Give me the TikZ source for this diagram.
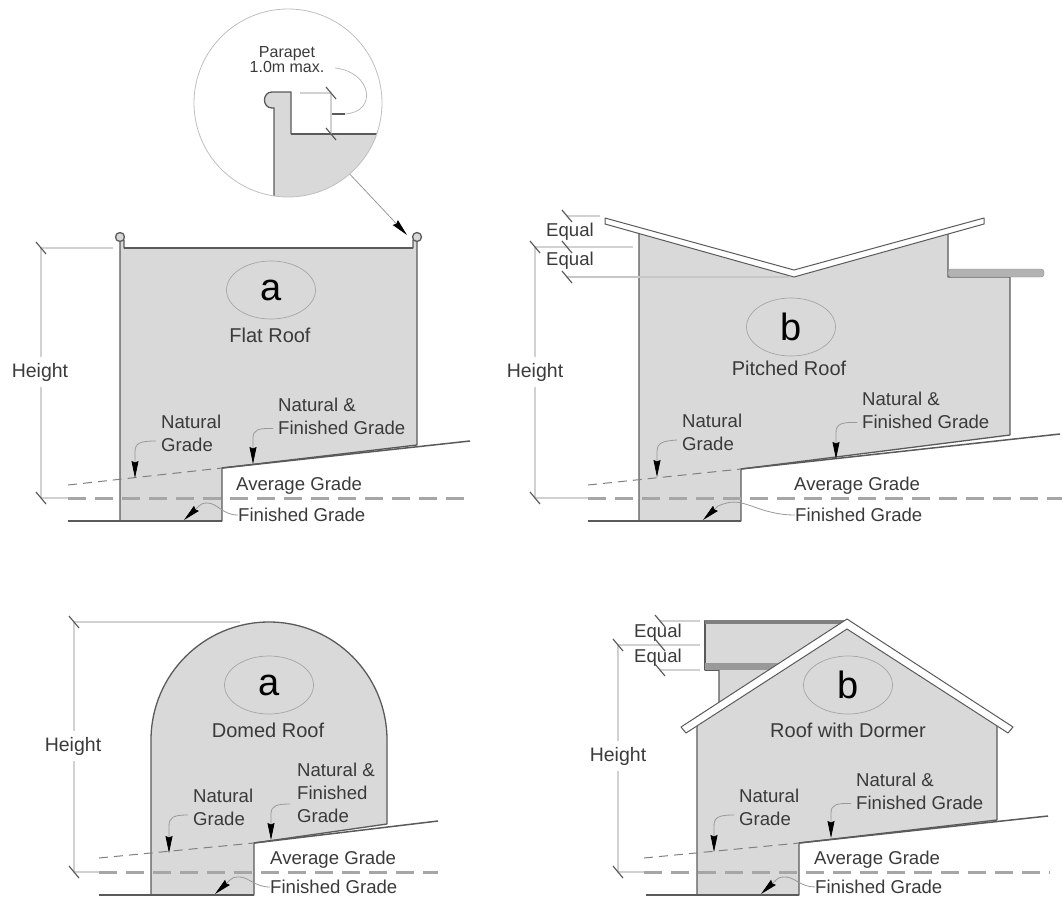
\documentclass[tikz,border=0pt]{standalone}
\usepackage{fontspec}
\setmainfont{Liberation Sans}
\usepackage{xcolor}
\usetikzlibrary{arrows.meta,calc}
\definecolor{wallgray}{HTML}{D9D9D9}
\definecolor{linegray}{HTML}{5A5A5A}
\definecolor{textgray}{HTML}{3A3A3A}
\tikzset{%
	wall/.style      = {draw=linegray, fill=wallgray, line width=1.3pt, line join=round},
	grade/.style     = {draw=linegray, line width=1.5pt},
	natgrade/.style  = {draw=gray, line width=1pt, dash pattern=on 9pt off 6pt},
	avggrade/.style  = {draw=black!35, line width=3pt, dash pattern=on 18pt off 9pt},
	dimline/.style   = {draw=black!18, line width=1.2pt},
	dimtick/.style   = {draw=linegray, line width=1.2pt},
	leader/.style    = {draw=black!40, line width=.8pt, -{Stealth[length=17pt,width=7pt,inset=1.5pt,black]}},
	roofband/.style  = {draw=linegray, fill=white, line width=1pt, line join=round},
	label/.style     = {text=textgray, font=\fontsize{18.6}{23}\selectfont, align=left, inner sep=0pt},
	roofname/.style  = {text=textgray, font=\fontsize{20}{24}\selectfont, inner sep=0pt},
	heightlabel/.style = {text=textgray, font=\fontsize{19.5}{24}\selectfont, inner sep=6pt},
	equallabel/.style = {text=textgray, font=\fontsize{18.6}{24}\selectfont, inner sep=0pt},
	tag/.style       = {draw=black!35, ellipse, minimum width=89pt, minimum height=58pt, inner sep=0pt, line width=.7pt, font=\fontsize{38}{38}\selectfont},
}
\usetikzlibrary{shapes.geometric}
\begin{document}
\begin{tikzpicture}[x=1pt,y=-1pt]
	\useasboundingbox (0,0) rectangle (1063,897);
	
	% flat roof
	\draw[wall] (120,521) -- (120,240) -- (124,240) -- (124,248) -- (413,248) -- (413,240) -- (417,240) -- (417,445) -- (222,468) -- (222,521) -- cycle;
	\draw[wall] (120,237) circle [radius=4.5];
	\draw[wall] (417,237) circle [radius=4.5];
	\draw[linegray, line width=2.4pt] (124,248) -- (413,248);
	\draw[natgrade] (68,485) -- (222,468);
	\draw[grade] (222,468) -- (470,441);
	\draw[grade] (68,521) -- (222,521);
	\draw[dimline] (41,498) -- (68,498);
	\draw[avggrade] (68,498) -- (472,498);
	\draw[dimline] (41,248) -- (113,248);
	
	\node[tag] (flattag) at (271,290) {a};
	\node[roofname] (flatname) at (270,335) {Flat Roof};
	\node[heightlabel] (flatheight) at (40,372) {Height};
	\coordinate (flattop) at (41,248);
	\coordinate (flatbase) at (41,498);
	\draw[dimline] (flattop) -- (flattop |- flatheight.north);
	\draw[dimline] (flatbase |- flatheight.south) -- (flatbase);
	\foreach \p in {flattop,flatbase}
		\draw[dimtick] ($(\p)+(-5,-6)$) -- ($(\p)+(5,6)$);
	
	\node[label,anchor=west] (flatnat) at (161,433) {Natural\\Grade};
	\node[label,anchor=west] (flatboth) at (278,416) {Natural \&\\Finished Grade};
	\node[label,anchor=west] (flatavg) at (236,486) {Average Grade};
	\node[label,anchor=west] (flatfin) at (238,515) {Finished Grade};
	\coordinate (flatnatend) at (135,478);
	\coordinate (flatbothend) at (253,464);
	\coordinate (flatfinend) at (184,520);
	\draw[leader] ([xshift=-5pt,yshift=-8pt]flatnat.west) .. controls (140,441) and (135,443) .. (135,452) -- (flatnatend);
	\draw[leader] ([xshift=-5pt,yshift=6pt]flatboth.south west) .. controls (258,428) and (253,430) .. (253,438) -- (flatbothend);
	\draw[leader] (flatfin.west) .. controls (222,515) and (218,503) .. (207,503) .. controls (203,503) and (201,504) .. (199,506) -- (flatfinend);
	
	% parapet detail
	\begin{scope}
		\clip (288,103) circle [radius=94];
		\path[fill=wallgray] (291,134) -- (400,134) -- (400,220) -- (274,220) -- (274,108) -- (272,108) .. controls (262,108) and (262,92) .. (272,92) -- (291,92) -- cycle;
		\draw[linegray, line width=1.3pt] (274,220) -- (274,108) -- (272,108) .. controls (262,108) and (262,92) .. (272,92) -- (291,92) -- (291,134);
		\draw[linegray, line width=2pt] (291,134) -- (400,134);
	\end{scope}
	\node[draw=black!25, circle, minimum size=188pt, line width=.8pt] (detail) at (288,103) {};
	\node[label, align=center, font=\fontsize{16}{15}\selectfont] (parapet) at (287,60) {Parapet\\1.0m max.};
	\coordinate (capt) at (331,93);
	\coordinate (capb) at (331,134);
	\draw[dimline] (300,93) -- (capt);
	\draw[dimline] (capt) -- (capb);
	\foreach \p in {capt,capb}
		\draw[dimtick] ($(\p)+(-5,-6)$) -- ($(\p)+(5,6)$);
	\coordinate (capend) at (332,114);
	\draw[black!30, line width=.7pt] (335,68) .. controls (372,72) and (378,112) .. (345,114);
	\draw[linegray, line width=2.2pt] (345,114) -- (capend);
	\coordinate (detailend) at (407,235);
	\draw[leader] (detail.-49) -- (detailend);
	
	% pitched roof
	\draw[wall] (639,231) -- (794,274) -- (948,233) -- (948,277) -- (1010,277) -- (1010,435) -- (741,469) -- (741,521) -- (639,521) -- cycle;
	\draw[roofband] (605,218) -- (794,270) -- (984,218) -- (984,224) -- (794,277) -- (605,224) -- cycle;
	\draw[draw=black!45, fill=black!30, rounded corners=3pt] (948,269) -- (1044,269) -- (1044,277) -- (948,277) -- cycle;
	\draw[natgrade] (588,485) -- (741,469);
	\draw[grade] (741,469) -- (1060,434);
	\draw[grade] (588,521) -- (741,521);
	\draw[dimline] (535,498) -- (588,498);
	\draw[avggrade] (588,498) -- (1062,498);
	\draw[dimline] (567,216) -- (600,216);
	\draw[dimline] (535,247) -- (633,247);
	\draw[draw=black!22, line width=1.4pt] (567,277) -- (790,277);
	
	\node[tag] (pitchtag) at (791,327) {b};
	\node[roofname] (pitchname) at (789,368) {Pitched Roof};
	\node[heightlabel] (pitchheight) at (535,372) {Height};
	\node[equallabel] (pitcheqa) at (570,232) {Equal};
	\node[equallabel] (pitcheqb) at (570,261) {Equal};
	\coordinate (pitchtop) at (535,247);
	\coordinate (pitchbase) at (535,498);
	\draw[dimline] (pitchtop) -- (pitchbase |- pitchheight.north);
	\draw[dimline] (pitchbase |- pitchheight.south) -- (pitchbase);
	\foreach \p in {pitchtop,pitchbase,{567,216},{567,247},{567,277}}
		\draw[dimtick] ($(\p)+(-5,-6)$) -- ($(\p)+(5,6)$);
	
	\node[label,anchor=west] (pitchnat) at (682,432) {Natural\\Grade};
	\node[label,anchor=west] (pitchboth) at (862,410) {Natural \&\\Finished Grade};
	\node[label,anchor=west] (pitchavg) at (794,486) {Average Grade};
	\node[label,anchor=west] (pitchfin) at (795,515) {Finished Grade};
	\coordinate (pitchnatend) at (657,477);
	\coordinate (pitchbothend) at (836,459);
	\coordinate (pitchfinend) at (703,520);
	\draw[leader] ([xshift=-5pt,yshift=-8pt]pitchnat.west) .. controls (662,441) and (657,443) .. (657,452) -- (pitchnatend);
	\draw[leader] ([xshift=-5pt,yshift=6pt]pitchboth.south west) .. controls (841,422) and (836,424) .. (836,433) -- (pitchbothend);
	\draw[leader] (pitchfin.west) .. controls (760,515) and (745,498) .. (727,503) .. controls (723,504) and (720,505) .. (718,506) -- (pitchfinend);
	
	% domed roof
	\draw[wall] (151,895) -- (151,740) arc [start angle=180, end angle=360, radius=118] -- (387,824) -- (254,843) -- (254,895) -- cycle;
	\draw[natgrade] (99,858) -- (254,843);
	\draw[grade] (254,843) -- (438,821);
	\draw[grade] (99,895) -- (254,895);
	\draw[dimline] (74,872) -- (99,872);
	\draw[avggrade] (99,872) -- (438,872);
	\draw[dimline] (74,622) -- (240,622);
	
	\node[tag] (dometag) at (269,685) {a};
	\node[roofname] (domename) at (268,730) {Domed Roof};
	\node[heightlabel] (domeheight) at (73,746) {Height};
	\coordinate (dometop) at (74,622);
	\coordinate (domebase) at (74,872);
	\draw[dimline] (dometop) -- (dometop |- domeheight.north);
	\draw[dimline] (domebase |- domeheight.south) -- (domebase);
	\foreach \p in {dometop,domebase}
		\draw[dimtick] ($(\p)+(-5,-6)$) -- ($(\p)+(5,6)$);
	
	\node[label,anchor=west] (domenat) at (193,807) {Natural\\Grade};
	\node[label,anchor=west] (domeboth) at (297,793) {Natural \&\\Finished\\Grade};
	\node[label,anchor=west] (domeavg) at (270,860) {Average Grade};
	\node[label,anchor=west] (domefin) at (270,887) {Finished Grade};
	\coordinate (domenatend) at (169,853);
	\coordinate (domebothend) at (271,840);
	\coordinate (domefinend) at (215,894);
	\draw[leader] ([xshift=-5pt,yshift=-8pt]domenat.west) .. controls (174,815) and (169,817) .. (169,826) -- (domenatend);
	\draw[leader] ([xshift=-7pt,yshift=-11pt]domeboth.west) .. controls (276,804) and (271,806) .. (271,814) -- (domebothend);
	\draw[leader] (domefin.west) .. controls (254,887) and (248,876) .. (238,877) .. controls (234,877) and (232,878) .. (230,880) -- (domefinend);
	
	% roof with dormer
	\draw[wall] (705,621) -- (847,621) -- (847,670) -- (705,670) -- cycle;
	\fill[black!50] (705,620) rectangle (847,624);
	\fill[black!40] (705,663) rectangle (780,670);
	\draw[wall] (719,670) -- (719,710) -- (780,670);
	\draw[wall] (697,717) -- (847,625) -- (997,720) -- (997,820) -- (799,843) -- (799,895) -- (697,895) -- cycle;
	\draw[roofband] (847,619) -- (681,727) -- (686,733) -- (847,629) -- (1008,733) -- (1013,727) -- cycle;
	\draw[natgrade] (644,858) -- (799,843);
	\draw[grade] (799,843) -- (1048,816);
	\draw[grade] (646,895) -- (799,895);
	\draw[dimline] (618,872) -- (644,872);
	\draw[avggrade] (644,872) -- (1050,872);
	\draw[dimline] (660,621) -- (700,621);
	\draw[dimline] (618,645) -- (700,645);
	\draw[dimline] (660,670) -- (700,670);
	
	\node[tag] (dormertag) at (848,685) {b};
	\node[roofname] (dormername) at (848,730) {Roof with Dormer};
	\node[heightlabel] (dormerheight) at (618,756) {Height};
	\node[equallabel] (dormereqa) at (658,633) {Equal};
	\node[equallabel] (dormereqb) at (658,658) {Equal};
	\coordinate (dormertop) at (618,645);
	\coordinate (dormerbase) at (618,872);
	\draw[dimline] (dormertop) -- (dormertop |- dormerheight.north);
	\draw[dimline] (dormerbase |- dormerheight.south) -- (dormerbase);
	\foreach \p in {dormertop,dormerbase,{660,621},{660,645},{660,670}}
		\draw[dimtick] ($(\p)+(-5,-6)$) -- ($(\p)+(5,6)$);
	
	\node[label,anchor=west] (dormernat) at (739,807) {Natural\\Grade};
	\node[label,anchor=west] (dormerboth) at (856,791) {Natural \&\\Finished Grade};
	\node[label,anchor=west] (dormeravg) at (814,860) {Average Grade};
	\node[label,anchor=west] (dormerfin) at (815,887) {Finished Grade};
	\coordinate (dormernatend) at (714,852);
	\coordinate (dormerbothend) at (831,838);
	\coordinate (dormerfinend) at (761,894);
	\draw[leader] ([xshift=-5pt,yshift=-8pt]dormernat.west) .. controls (719,815) and (714,817) .. (714,826) -- (dormernatend);
	\draw[leader] ([xshift=-5pt,yshift=6pt]dormerboth.south west) .. controls (836,803) and (831,805) .. (831,813) -- (dormerbothend);
	\draw[leader] (dormerfin.west) .. controls (800,887) and (794,876) .. (784,877) .. controls (780,877) and (778,878) .. (776,880) -- (dormerfinend);
	
\end{tikzpicture}
\end{document}
